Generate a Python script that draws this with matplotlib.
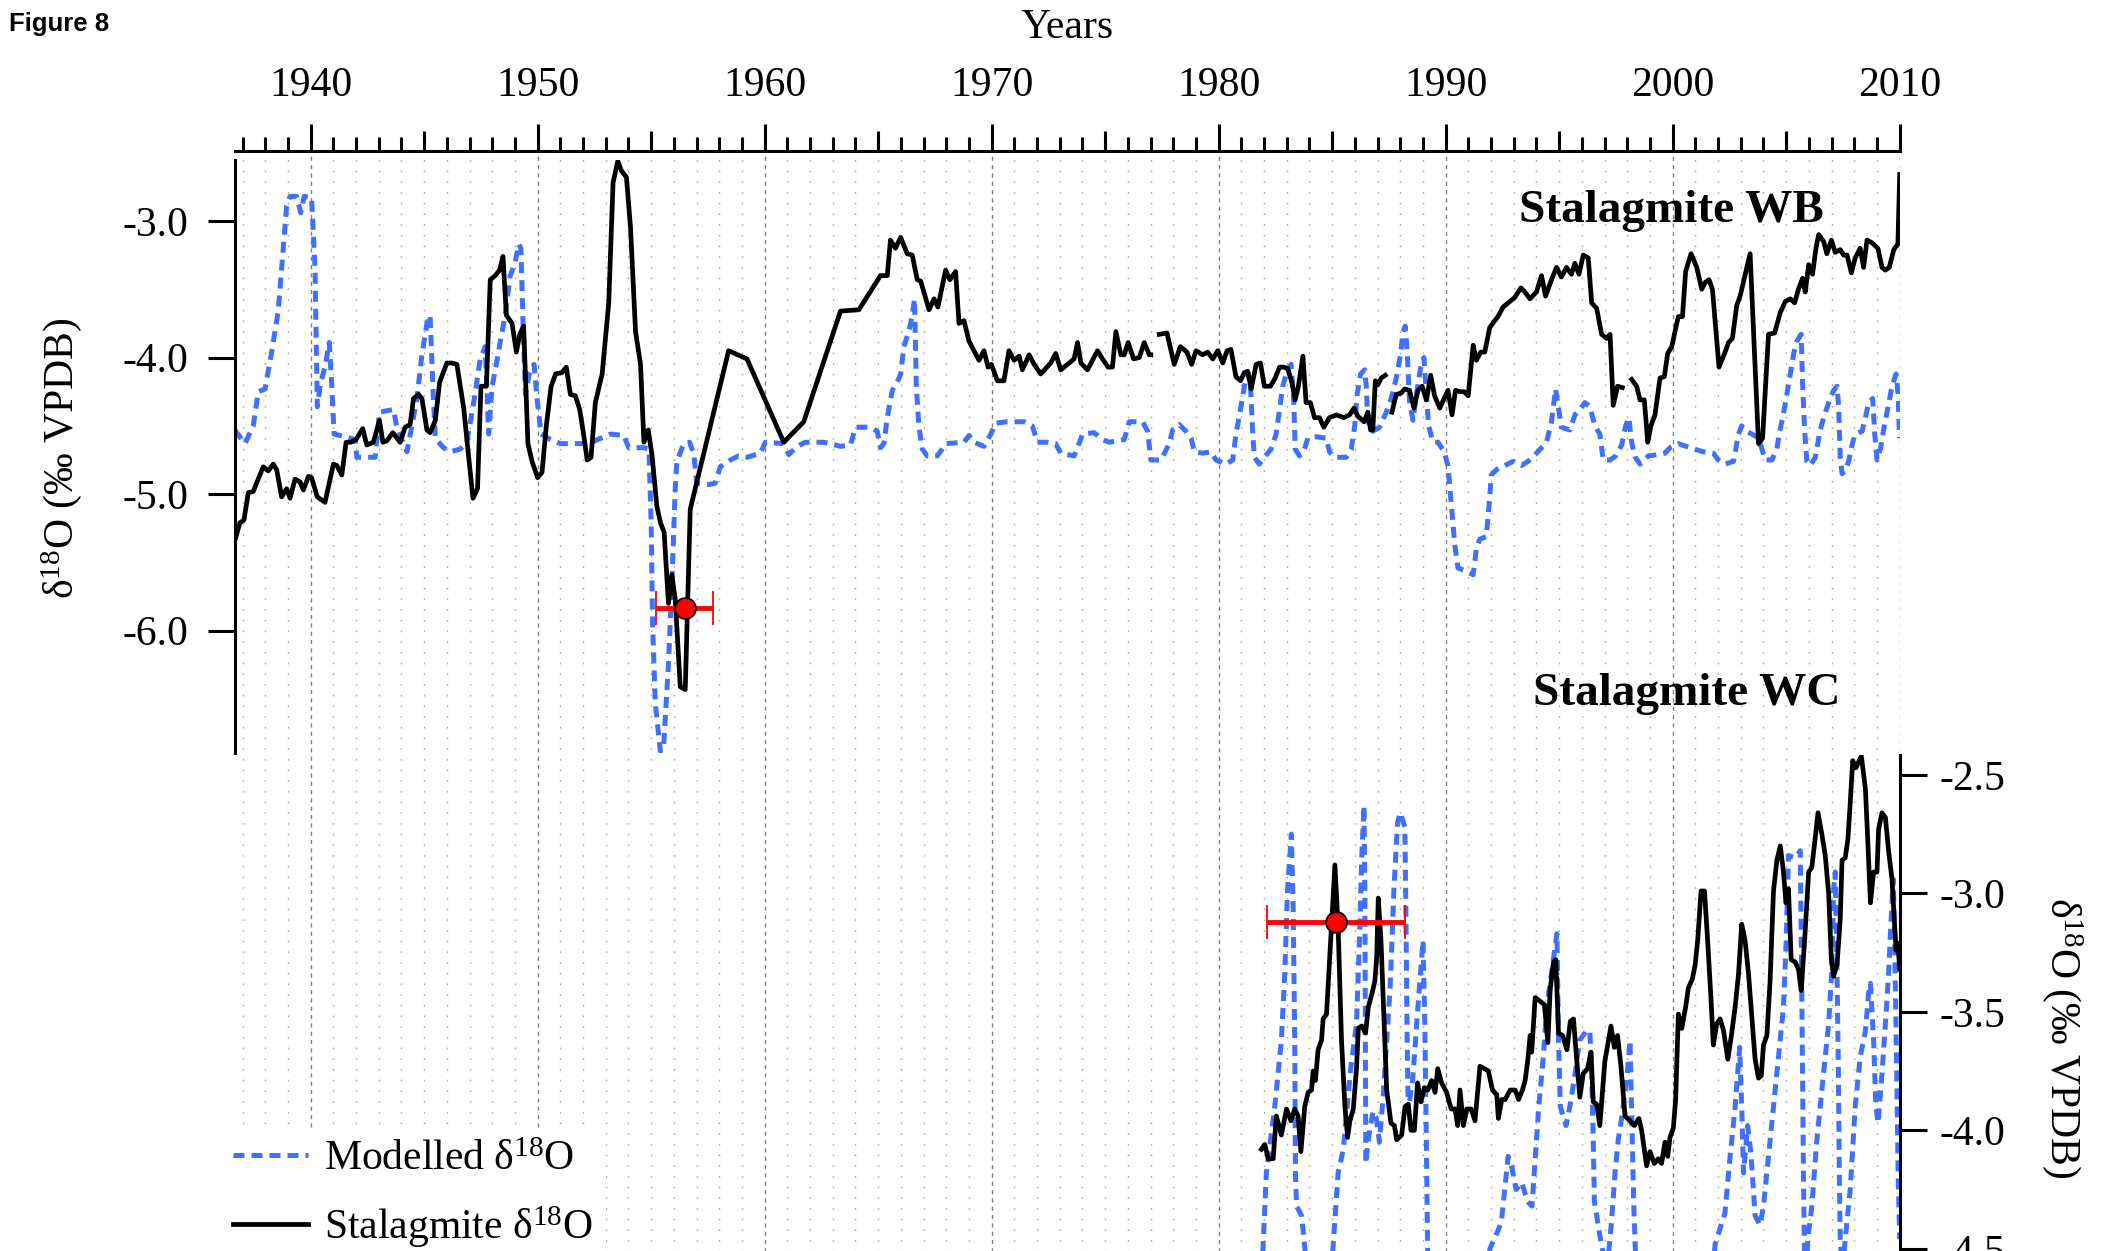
import numpy as np
import matplotlib
matplotlib.use("Agg")
import matplotlib.pyplot as plt
from matplotlib.ticker import FixedLocator, FormatStrFormatter, NullLocator, NullFormatter
from matplotlib.lines import Line2D

plt.rcParams.update({
    "font.family": ["Liberation Serif", "DejaVu Serif"],
    "mathtext.fontset": "custom",
    "mathtext.rm": "Liberation Serif",
    "mathtext.it": "Liberation Serif:italic",
    "mathtext.bf": "Liberation Serif:bold",
    "axes.unicode_minus": False,
})

nan = np.nan

# ---------------- Stalagmite WB ----------------
wb_stal_year = [
    1936.66, 1936.88, 1937.06, 1937.25, 1937.47, 1937.69, 1937.91, 1938.13, 1938.35, 1938.50,
    1938.72, 1938.94, 1939.09, 1939.31, 1939.53, 1939.68, 1939.90, 1940.04, 1940.29, 1940.63,
    1941.00, 1941.15, 1941.37, 1941.56, 1941.76, 1942.00, 1942.29, 1942.47, 1942.76, 1943.03,
    1943.18, 1943.35, 1943.62, 1943.94, 1944.16, 1944.38, 1944.53, 1944.75, 1944.90, 1945.12,
    1945.26, 1945.49, 1945.68, 1946.00, 1946.22, 1946.44, 1946.74, 1946.96, 1947.15, 1947.35,
    1947.50, 1947.74, 1947.91, 1948.13, 1948.32, 1948.47, 1948.62, 1948.87, 1949.06, 1949.21,
    1949.38, 1949.57, 1949.75, 1950.00, 1950.19, 1950.38, 1950.59, 1950.79, 1951.07, 1951.26,
    1951.44, 1951.66, 1951.85, 1952.03, 1952.18, 1952.35, 1952.54, 1952.84, 1953.13, 1953.32,
    1953.53, 1953.68, 1953.91, 1954.09, 1954.31, 1954.53, 1954.68, 1954.87, 1955.04, 1955.25,
    1955.41, 1955.57, 1955.76, 1955.91, 1956.06, 1956.28, 1956.50, 1956.72, 1958.41, 1959.22,
    1960.84, 1961.72, 1963.34, 1964.15, 1965.10, 1965.40, 1965.54, 1965.76, 1965.99, 1966.28,
    1966.50, 1966.72, 1966.87, 1967.24, 1967.46, 1967.63, 1967.97, 1968.16, 1968.41, 1968.56,
    1968.78, 1969.00, 1969.44, 1969.66, 1969.84, 1969.99, 1970.25, 1970.54, 1970.76, 1970.99,
    1971.21, 1971.35, 1971.65, 1971.87, 1972.16, 1972.38, 1972.60, 1972.82, 1973.04, 1973.34,
    1973.63, 1973.78, 1973.93, 1974.22, 1974.44, 1974.66, 1974.88, 1975.13, 1975.32, 1975.47,
    1975.69, 1975.84, 1976.01, 1976.25, 1976.50, 1976.72, 1976.94, 1977.01, 1977.20, 1977.38,
    1977.72, 1978.04, 1978.31, 1978.60, 1978.81, 1979.00, 1979.29, 1979.51, 1979.74, 1979.96,
    1980.18, 1980.37, 1980.54, 1980.76, 1980.96, 1981.13, 1981.28, 1981.43, 1981.65, 1981.84,
    1982.01, 1982.28, 1982.49, 1982.68, 1982.87, 1983.04, 1983.22, 1983.37, 1983.51, 1983.71,
    1983.85, 1984.04, 1984.22, 1984.44, 1984.63, 1984.88, 1985.18, 1985.51, 1985.76, 1985.96,
    1986.13, 1986.40, 1986.57, 1986.69, 1986.79, 1986.90, 1987.01, 1987.16, 1987.34, 1987.50,
    1987.63, 1987.82, 1988.04, 1988.19, 1988.41, 1988.60, 1988.78, 1988.96, 1989.15, 1989.34,
    1989.51, 1989.74, 1989.93, 1990.10, 1990.28, 1990.43, 1990.62, 1990.81, 1990.99, 1991.21,
    1991.35, 1991.54, 1991.72, 1991.94, 1992.16, 1992.30, 1992.53, 1992.82, 1993.04, 1993.31,
    1993.49, 1993.71, 1994.00, 1994.22, 1994.40, 1994.66, 1994.88, 1995.10, 1995.32, 1995.54,
    1995.69, 1995.87, 1996.06, 1996.28, 1996.43, 1996.65, 1996.87, 1997.09, 1997.24, 1997.38,
    1997.57, 1997.78, 1998.00, 1998.19, 1998.41, 1998.56, 1998.75, 1998.90, 1999.04, 1999.22,
    1999.44, 1999.63, 1999.78, 1999.96, 2000.18, 2000.25, 2000.43, 2000.57, 2000.81, 2001.06,
    2001.28, 2001.43, 2001.60, 2001.75, 2002.04, 2002.31, 2002.46, 2002.63, 2002.82, 2002.97,
    2003.41, 2003.78, 2003.96, 2004.22, 2004.49, 2004.74, 2004.96, 2005.18, 2005.37, 2005.54,
    2005.72, 2005.84, 2005.99, 2006.16, 2006.31, 2006.43, 2006.65, 2006.79, 2006.99, 2007.16,
    2007.38, 2007.53, 2007.68, 2007.87, 2008.04, 2008.26, 2008.41, 2008.56, 2008.78, 2009.04,
    2009.22, 2009.37, 2009.54, 2009.74, 2009.92, 2010.00,
]
wb_stal_d18o = [
    -5.34, -5.21, -5.19, -4.99, -4.98, -4.89, -4.80, -4.83, -4.78, -4.82,
    -5.02, -4.96, -5.03, -4.89, -4.91, -4.97, -4.87, -4.88, -5.02, -5.06,
    -4.78, -4.79, -4.86, -4.62, -4.62, -4.60, -4.52, -4.64, -4.62, -4.46,
    -4.62, -4.61, -4.55, -4.62, -4.51, -4.49, -4.30, -4.27, -4.30, -4.53,
    -4.55, -4.46, -4.18, -4.04, -4.04, -4.05, -4.37, -4.73, -5.03, -4.96,
    -4.21, -4.21, -3.43, -3.40, -3.36, -3.26, -3.69, -3.75, -3.96, -3.83,
    -3.77, -4.63, -4.76, -4.88, -4.84, -4.50, -4.21, -4.12, -4.11, -4.07,
    -4.27, -4.28, -4.38, -4.57, -4.75, -4.73, -4.33, -4.12, -3.60, -2.72,
    -2.56, -2.63, -2.68, -3.05, -3.81, -4.05, -4.62, -4.53, -4.72, -5.09,
    -5.21, -5.28, -5.80, -5.59, -5.77, -6.41, -6.43, -5.11, -3.95, -4.01,
    -4.62, -4.47, -3.66, -3.65, -3.40, -3.40, -3.14, -3.20, -3.12, -3.24,
    -3.25, -3.43, -3.44, -3.65, -3.57, -3.63, -3.36, -3.43, -3.37, -3.75,
    -3.73, -3.88, -4.02, -3.95, -4.07, -4.05, -4.17, -4.17, -3.95, -4.02,
    -3.99, -4.09, -3.98, -4.05, -4.12, -4.08, -4.04, -3.97, -4.09, -4.05,
    -4.01, -3.89, -4.04, -4.09, -4.02, -3.95, -4.01, -4.07, -4.07, -3.81,
    -3.98, -3.98, -3.89, -4.01, -4.00, -3.89, -3.98, -3.98, nan, -3.83,
    -3.82, -4.05, -3.92, -3.96, -4.05, -3.95, -3.98, -3.96, -4.01, -3.95,
    -4.04, -3.95, -3.94, -4.14, -4.17, -4.11, -4.10, -4.23, -4.05, -4.04,
    -4.21, -4.21, -4.15, -4.07, -4.07, -4.08, -4.18, -4.31, -4.21, -3.99,
    -4.33, -4.33, -4.44, -4.44, -4.51, -4.44, -4.42, -4.44, -4.42, -4.37,
    -4.43, -4.47, -4.40, -4.53, -4.53, -4.17, -4.20, -4.15, -4.13, nan,
    -4.40, -4.27, -4.26, -4.23, -4.24, -4.37, -4.24, -4.21, -4.31, -4.13,
    -4.28, -4.37, -4.30, -4.24, -4.42, -4.24, -4.25, -4.25, -4.28, -3.91,
    -4.02, -3.96, -3.96, -3.78, -3.73, -3.70, -3.63, -3.59, -3.56, -3.49,
    -3.52, -3.57, -3.52, -3.40, -3.55, -3.43, -3.34, -3.41, -3.34, -3.39,
    -3.31, -3.39, -3.25, -3.27, -3.60, -3.64, -3.83, -3.86, -3.83, -4.35,
    -4.21, -4.22, nan, -4.16, -4.21, -4.31, -4.31, -4.62, -4.50, -4.42,
    -4.15, -4.14, -3.97, -3.92, -3.75, -3.70, -3.70, -3.37, -3.24, -3.34,
    -3.50, -3.45, -3.43, -3.50, -4.07, -3.96, -3.89, -3.86, -3.62, -3.55,
    -3.24, -4.63, -4.59, -3.83, -3.82, -3.67, -3.59, -3.57, -3.60, -3.50,
    -3.42, -3.52, -3.32, -3.39, -3.20, -3.10, -3.15, -3.24, -3.14, -3.23,
    -3.21, -3.25, -3.25, -3.38, -3.27, -3.20, -3.34, -3.14, -3.16, -3.20,
    -3.34, -3.36, -3.34, -3.21, -3.17, -2.66,
]

wb_model_year = [
    1936.66, 1937.10, 1937.47, 1937.69, 1937.99, 1938.28, 1938.57, 1938.79, 1938.94, 1939.09,
    1939.38, 1939.56, 1939.71, 1940.04, 1940.19, 1940.29, 1940.44, 1940.63, 1940.82, 1940.93,
    1941.03, 1941.29, 1941.96, 1942.03, 1942.84, 1943.03, 1943.65, 1943.79, 1944.24, 1944.46,
    1944.68, 1944.90, 1945.12, 1945.26, 1945.38, 1945.49, 1945.85, 1946.15, 1946.59, 1946.88,
    1947.18, 1947.47, 1947.69, 1947.84, 1947.99, 1948.13, 1948.38, 1948.57, 1948.79, 1949.00,
    1949.16, 1949.26, 1949.35, 1949.46, 1949.63, 1949.84, 1949.97, 1950.15, 1950.56, 1951.00,
    1952.25, 1952.91, 1953.21, 1953.79, 1954.01, 1954.68, 1954.90, 1955.00, 1955.06, 1955.18,
    1955.40, 1955.54, 1955.76, 1955.91, 1956.06, 1956.13, 1956.43, 1956.69, 1956.87, 1957.01,
    1957.53, 1957.82, 1958.04, 1958.49, 1958.85, 1959.22, 1959.81, 1960.03, 1960.84, 1961.06,
    1961.43, 1961.79, 1962.60, 1963.34, 1963.78, 1964.00, 1964.66, 1964.96, 1965.10, 1965.25,
    1965.40, 1965.62, 1965.84, 1965.99, 1966.13, 1966.35, 1966.50, 1966.60, 1966.68, 1966.79,
    1966.94, 1967.16, 1967.60, 1967.82, 1967.97, 1968.78, 1969.00, 1969.22, 1969.66, 1969.96,
    1970.18, 1970.69, 1971.43, 1971.79, 1972.01, 1972.46, 1972.82, 1973.04, 1973.63, 1973.85,
    1974.00, 1974.51, 1974.88, 1975.18, 1975.84, 1976.06, 1976.65, 1976.87, 1977.01, 1977.46,
    1977.82, 1977.97, 1978.26, 1978.56, 1978.78, 1978.93, 1979.29, 1979.66, 1979.88, 1980.32,
    1980.62, 1980.76, 1980.96, 1981.13, 1981.28, 1981.40, 1981.50, 1981.57, 1981.79, 1982.01,
    1982.31, 1982.53, 1982.68, 1982.82, 1983.04, 1983.19, 1983.31, 1983.37, 1983.56, 1983.78,
    1983.93, 1984.29, 1984.74, 1984.88, 1985.10, 1985.62, 1985.84, 1985.99, 1986.10, 1986.25,
    1986.43, 1986.50, 1986.57, 1986.79, 1987.09, 1987.38, 1987.60, 1987.82, 1988.01, 1988.12,
    1988.22, 1988.31, 1988.41, 1988.56, 1988.71, 1988.90, 1989.04, 1989.15, 1989.25, 1989.44,
    1989.66, 1989.93, 1990.10, 1990.25, 1990.40, 1990.54, 1990.84, 1991.21, 1991.35, 1991.50,
    1991.79, 1991.94, 1992.01, 1992.24, 1992.60, 1992.97, 1993.34, 1993.63, 1994.00, 1994.44,
    1994.66, 1994.84, 1994.96, 1995.10, 1995.47, 1995.69, 1995.91, 1996.13, 1996.35, 1996.57,
    1996.79, 1996.94, 1997.24, 1997.49, 1997.75, 1997.93, 1998.07, 1998.19, 1998.35, 1998.56,
    1998.93, 1999.37, 1999.66, 1999.88, 2000.25, 2000.76, 2001.35, 2001.79, 2002.01, 2002.31,
    2002.68, 2002.90, 2003.04, 2003.26, 2003.49, 2003.78, 2003.93, 2004.07, 2004.37, 2004.59,
    2004.69, 2004.88, 2005.03, 2005.18, 2005.32, 2005.47, 2005.66, 2005.72, 2005.81, 2005.91,
    2006.06, 2006.28, 2006.50, 2006.65, 2006.87, 2007.09, 2007.24, 2007.31, 2007.38, 2007.46,
    2007.60, 2007.75, 2007.90, 2008.04, 2008.34, 2008.49, 2008.63, 2008.81, 2008.90, 2009.00,
    2009.15, 2009.29, 2009.49, 2009.66, 2009.84, 2009.93, 2009.99,
]
wb_model_d18o = [
    -4.53, -4.63, -4.50, -4.25, -4.23, -3.96, -3.66, -3.20, -2.89, -2.82,
    -2.82, -2.94, -2.82, -2.83, -3.34, -4.36, -4.18, -4.07, -3.89, -4.21,
    -4.56, -4.57, -4.60, -4.73, -4.73, -4.40, -4.38, -4.51, -4.69, -4.50,
    -4.30, -3.98, -3.75, -3.69, -4.21, -4.59, -4.66, -4.69, -4.67, -4.62,
    -4.33, -4.01, -3.92, -4.56, -4.21, -4.09, -3.86, -3.69, -3.40, -3.31,
    -3.17, -3.20, -3.73, -4.27, -4.12, -4.05, -4.30, -4.56, -4.60, -4.63,
    -4.63, -4.58, -4.56, -4.57, -4.66, -4.66, -4.67, -5.22, -5.95, -6.53,
    -6.88, -6.87, -6.24, -5.66, -4.96, -4.76, -4.63, -4.62, -4.70, -4.92,
    -4.93, -4.92, -4.80, -4.75, -4.72, -4.73, -4.70, -4.62, -4.63, -4.71,
    -4.65, -4.62, -4.62, -4.65, -4.64, -4.51, -4.51, -4.54, -4.66, -4.63,
    -4.44, -4.24, -4.18, -4.12, -3.92, -3.81, -3.69, -3.57, -4.21, -4.50,
    -4.67, -4.72, -4.72, -4.67, -4.63, -4.62, -4.57, -4.62, -4.65, -4.56,
    -4.48, -4.47, -4.47, -4.50, -4.62, -4.62, -4.63, -4.70, -4.72, -4.63,
    -4.56, -4.55, -4.60, -4.62, -4.60, -4.47, -4.47, -4.54, -4.75, -4.75,
    -4.63, -4.53, -4.49, -4.54, -4.59, -4.69, -4.70, -4.69, -4.75, -4.78,
    -4.75, -4.56, -4.38, -4.21, -4.11, -4.21, -4.56, -4.73, -4.78, -4.73,
    -4.67, -4.56, -4.38, -4.21, -4.09, -4.05, -4.33, -4.67, -4.72, -4.67,
    -4.59, -4.58, -4.59, -4.69, -4.73, -4.73, -4.67, -4.50, -4.27, -4.12,
    -4.09, -4.21, -4.47, -4.54, -4.51, -4.40, -4.30, -4.15, -3.98, -3.81,
    -3.77, -3.98, -4.33, -4.46, -4.27, -4.07, -4.00, -4.27, -4.50, -4.62,
    -4.62, -4.69, -4.79, -5.08, -5.37, -5.54, -5.56, -5.59, -5.40, -5.33,
    -5.31, -5.02, -4.86, -4.82, -4.79, -4.76, -4.79, -4.76, -4.70, -4.62,
    -4.47, -4.23, -4.36, -4.51, -4.53, -4.42, -4.38, -4.33, -4.36, -4.50,
    -4.56, -4.75, -4.75, -4.72, -4.64, -4.50, -4.44, -4.62, -4.73, -4.78,
    -4.72, -4.71, -4.70, -4.66, -4.63, -4.66, -4.69, -4.70, -4.75, -4.78,
    -4.76, -4.56, -4.50, -4.54, -4.56, -4.59, -4.67, -4.75, -4.75, -4.67,
    -4.56, -4.41, -4.27, -4.12, -3.98, -3.88, -3.83, -4.18, -4.53, -4.76,
    -4.79, -4.73, -4.53, -4.44, -4.33, -4.24, -4.21, -4.36, -4.73, -4.85,
    -4.83, -4.76, -4.64, -4.56, -4.54, -4.44, -4.33, -4.30, -4.56, -4.75,
    -4.67, -4.53, -4.36, -4.21, -4.12, -4.27, -4.59,
]

# ---------------- Stalagmite WC ----------------
wc_stal_year = [
    1981.88, 1982.03, 1982.18, 1982.40, 1982.54, 1982.76, 1982.99, 1983.18, 1983.35, 1983.50,
    1983.62, 1983.79, 1983.94, 1984.09, 1984.16, 1984.26, 1984.38, 1984.53, 1984.60, 1984.75,
    1984.85, 1984.97, 1985.12, 1985.26, 1985.41, 1985.56, 1985.68, 1985.78, 1985.93, 1986.07,
    1986.15, 1986.29, 1986.47, 1986.59, 1986.76, 1986.88, 1986.96, 1987.03, 1987.15, 1987.29,
    1987.40, 1987.59, 1987.74, 1987.84, 1988.06, 1988.21, 1988.35, 1988.47, 1988.62, 1988.76,
    1988.91, 1989.06, 1989.21, 1989.38, 1989.53, 1989.65, 1989.82, 1990.04, 1990.24, 1990.41,
    1990.53, 1990.63, 1990.78, 1990.93, 1991.12, 1991.29, 1991.51, 1991.71, 1991.88, 1992.06,
    1992.25, 1992.32, 1992.47, 1992.62, 1992.84, 1993.06, 1993.21, 1993.38, 1993.50, 1993.62,
    1993.72, 1993.79, 1993.94, 1994.09, 1994.35, 1994.50, 1994.60, 1994.75, 1994.85, 1994.97,
    1995.15, 1995.34, 1995.49, 1995.63, 1995.76, 1995.91, 1996.06, 1996.25, 1996.40, 1996.50,
    1996.65, 1996.79, 1997.01, 1997.28, 1997.43, 1997.57, 1997.72, 1997.90, 1998.12, 1998.31,
    1998.51, 1998.63, 1998.85, 1999.00, 1999.19, 1999.37, 1999.51, 1999.66, 1999.78, 1999.88,
    2000.03, 2000.13, 2000.25, 2000.40, 2000.57, 2000.69, 2000.87, 2000.99, 2001.10, 2001.25,
    2001.40, 2001.54, 2001.69, 2001.79, 2001.94, 2002.09, 2002.24, 2002.43, 2002.60, 2002.75,
    2002.90, 2003.04, 2003.19, 2003.34, 2003.51, 2003.63, 2003.78, 2003.90, 2004.00, 2004.15,
    2004.29, 2004.44, 2004.59, 2004.74, 2004.88, 2004.99, 2005.10, 2005.22, 2005.40, 2005.54,
    2005.66, 2005.81, 2005.99, 2006.13, 2006.25, 2006.40, 2006.57, 2006.72, 2006.87, 2006.99,
    2007.09, 2007.24, 2007.38, 2007.46, 2007.60, 2007.72, 2007.82, 2007.93, 2008.07, 2008.31,
    2008.49, 2008.60, 2008.71, 2008.85, 2009.00, 2009.07, 2009.22, 2009.37, 2009.51, 2009.66,
    2009.84, 2009.92, 2010.00,
]
wc_stal_d18o = [
    -4.08, -4.06, -4.12, -4.12, -3.94, -4.02, -3.91, -3.96, -3.91, -3.94,
    -4.09, -3.90, -3.84, -3.83, -3.75, -3.79, -3.66, -3.62, -3.53, -3.51,
    -3.34, -3.14, -2.88, -3.14, -3.62, -3.90, -4.03, -3.96, -3.91, -3.74,
    -3.57, -3.56, -3.59, -3.48, -3.42, -3.37, -3.27, -3.02, -3.20, -3.55,
    -3.83, -3.97, -3.98, -4.04, -4.02, -3.90, -3.89, -4.00, -4.00, -3.80,
    -3.88, -3.82, -3.83, -3.79, -3.84, -3.74, -3.80, -3.84, -3.91, -3.91,
    -3.98, -3.83, -3.98, -3.91, -3.91, -3.96, -3.73, -3.74, -3.75, -3.83,
    -3.85, -3.95, -3.87, -3.87, -3.83, -3.83, -3.87, -3.83, -3.79, -3.70,
    -3.60, -3.67, -3.44, -3.45, -3.47, -3.63, -3.41, -3.29, -3.28, -3.59,
    -3.60, -3.66, -3.54, -3.53, -3.69, -3.86, -3.76, -3.74, -3.67, -3.88,
    -3.89, -3.98, -3.71, -3.56, -3.65, -3.60, -3.73, -3.94, -3.96, -3.98,
    -3.95, -4.00, -4.15, -4.09, -4.14, -4.12, -4.14, -4.05, -4.11, -4.03,
    -3.99, -3.87, -3.51, -3.57, -3.48, -3.40, -3.36, -3.30, -3.20, -2.99,
    -2.99, -3.20, -3.45, -3.64, -3.55, -3.53, -3.58, -3.70, -3.59, -3.48,
    -3.34, -3.13, -3.20, -3.34, -3.55, -3.70, -3.78, -3.77, -3.64, -3.60,
    -3.37, -2.99, -2.86, -2.80, -2.91, -3.04, -2.98, -3.28, -3.29, -3.32,
    -3.41, -3.20, -2.91, -2.89, -2.79, -2.66, -2.75, -2.84, -3.00, -3.28,
    -3.35, -3.30, -3.11, -2.86, -2.85, -2.77, -2.62, -2.44, -2.47, -2.42,
    -2.56, -2.79, -3.04, -2.91, -2.91, -2.73, -2.66, -2.68, -2.82, -2.94,
    -3.24, -3.21, -3.32,
]

wc_model_year = [
    1981.85, 1981.95, 1982.10, 1982.47, 1982.76, 1982.91, 1983.03, 1983.20, 1983.28, 1983.35,
    1983.38, 1983.43, 1983.65, 1983.90, 1984.40, 1984.95, 1985.04, 1985.26, 1985.49, 1985.80,
    1986.07, 1986.20, 1986.30, 1986.40, 1986.44, 1986.46, 1986.48, 1986.62, 1986.80, 1986.95,
    1987.08, 1987.25, 1987.55, 1987.72, 1987.88, 1988.00, 1988.20, 1988.25, 1988.30, 1988.35,
    1988.55, 1988.80, 1989.00, 1989.08, 1989.14, 1989.20, 1989.35, 1990.50, 1991.50, 1991.95,
    1992.45, 1992.75, 1992.90, 1993.10, 1993.35, 1993.60, 1993.80, 1993.95, 1994.10, 1994.30,
    1994.45, 1994.70, 1994.90, 1994.97, 1995.05, 1995.30, 1995.47, 1995.70, 1995.90, 1996.20,
    1996.35, 1996.43, 1996.50, 1996.55, 1996.80, 1997.10, 1997.30, 1997.46, 1997.60, 1997.75,
    1998.00, 1998.12, 1998.20, 1998.28, 1998.37, 1998.60, 2000.00, 2001.50, 2001.87, 2002.30,
    2002.53, 2002.75, 2002.95, 2003.04, 2003.12, 2003.30, 2003.45, 2003.63, 2003.85, 2004.00,
    2004.22, 2004.44, 2004.66, 2004.88, 2005.00, 2005.10, 2005.40, 2005.62, 2005.68, 2005.72,
    2005.76, 2005.80, 2005.86, 2005.95, 2006.13, 2006.35, 2006.57, 2006.72, 2006.87, 2007.00,
    2007.09, 2007.16, 2007.24, 2007.30, 2007.34, 2007.38, 2007.48, 2007.60, 2007.82, 2008.04,
    2008.26, 2008.49, 2008.63, 2008.71, 2008.85, 2008.95, 2009.05, 2009.22, 2009.37, 2009.51,
    2009.60, 2009.72, 2009.80, 2009.87, 2009.93, 2010.00,
]
wc_model_d18o = [
    -4.75, -4.50, -4.18, -3.90, -3.62, -3.34, -2.99, -2.75, -3.06, -3.62,
    -4.18, -4.32, -4.36, -4.60, -4.90, -4.60, -4.49, -4.18, -4.08, -3.75,
    -3.55, -3.20, -2.85, -2.63, -3.00, -3.60, -4.14, -4.02, -3.92, -3.95,
    -4.05, -3.85, -3.40, -2.98, -2.70, -2.66, -2.72, -3.10, -3.60, -3.92,
    -3.78, -3.45, -3.20, -3.55, -4.00, -4.50, -4.85, -4.95, -4.85, -4.50,
    -4.39, -4.11, -4.15, -4.25, -4.22, -4.30, -4.32, -4.11, -3.90, -3.69,
    -3.48, -3.31, -3.17, -3.62, -3.90, -3.98, -3.90, -3.76, -3.62, -3.58,
    -3.58, -3.76, -4.04, -4.30, -4.45, -4.60, -4.39, -4.18, -4.04, -3.95,
    -3.76, -3.62, -3.95, -4.30, -4.55, -4.90, -5.00, -4.90, -4.48, -4.35,
    -4.11, -3.90, -3.65, -3.90, -4.18, -3.98, -4.10, -4.36, -4.40, -4.32,
    -4.11, -3.90, -3.69, -3.48, -3.20, -2.84, -2.85, -2.82, -3.34, -3.76,
    -4.18, -4.50, -4.70, -4.46, -4.32, -4.04, -3.83, -3.69, -3.55, -3.34,
    -2.98, -2.91, -3.34, -3.76, -4.18, -4.46, -4.60, -4.46, -4.25, -3.90,
    -3.69, -3.58, -3.42, -3.38, -3.62, -3.90, -3.97, -3.76, -3.55, -3.34,
    -3.15, -2.94, -3.34, -3.76, -4.18, -4.46,
]

# Radiometric tie points (year, value, +/- years)
wb_tie_year, wb_tie_d18o, wb_tie_err = [1956.47], [-5.83], [1.25]
wc_tie_year, wc_tie_d18o, wc_tie_err = [1985.17], [-3.12], [3.03]

decade_ticks = list(range(1940, 2011, 10))
half_decade_ticks = list(range(1945, 2010, 10))
year_ticks = list(range(1937, 2011))
wb_yticks = [-3.0, -4.0, -5.0, -6.0]
wc_yticks = [-2.5, -3.0, -3.5, -4.0, -4.5]

# ---------------- layout ----------------
W, H, DPI = 2113, 1251, 100
PT = DPI / 72.0
fig = plt.figure(figsize=(W / DPI, H / DPI), dpi=DPI)

X_MIN, X_MAX = 1936.65, 2010.0
left_px, right_px = 234.65, 1899.7
L, Wd = left_px / W, (right_px - left_px) / W

def box(top_px, bottom_px):
    return [L, 1 - bottom_px / H, Wd, (bottom_px - top_px) / H]

BLUE = "#4070ff"
LW_STAL = 3.4
LW_MODEL = 3.6
DASH = [2.2, 1.4]
TICK_W = 2.2
FS = 30

# background axis: top year scale + vertical grid
ax_bg = fig.add_axes(box(151, 1330), zorder=0)
ax_bg.set_xlim(X_MIN, X_MAX)
ax_bg.set_ylim(0, 1)
for s in ("left", "right", "bottom"):
    ax_bg.spines[s].set_visible(False)
ax_bg.spines["top"].set_linewidth(TICK_W)
ax_bg.yaxis.set_major_locator(NullLocator())
ax_bg.xaxis.set_major_locator(FixedLocator(decade_ticks))
ax_bg.xaxis.set_minor_locator(FixedLocator(year_ticks))
ax_bg.xaxis.set_major_formatter(FormatStrFormatter("%d"))
ax_bg.tick_params(axis="x", which="both", top=True, bottom=False, labeltop=True,
                  labelbottom=False, direction="out", width=TICK_W, labelsize=FS)
ax_bg.tick_params(axis="x", which="major", length=27 / PT, pad=14)
ax_bg.tick_params(axis="x", which="minor", length=14 / PT)
for yr in year_ticks:
    if yr % 10 == 0:
        ax_bg.axvline(yr, color="#808080", lw=1.0, ls=(0, (3, 3)), zorder=0)
    else:
        ax_bg.axvline(yr, color="#a8a8a8", lw=1.0, ls=(0, (1.2, 6.5)), zorder=0)

sec = ax_bg.secondary_xaxis("top")
sec.set_xticks(half_decade_ticks)
sec.xaxis.set_major_formatter(NullFormatter())
sec.tick_params(axis="x", direction="out", length=20 / PT, width=TICK_W)
sec.spines["top"].set_visible(False)

# Stalagmite WB panel
ax_wb = fig.add_axes(box(159.9, 753), zorder=2)
ax_wb.set_facecolor("none")
ax_wb.set_xlim(X_MIN, X_MAX)
ax_wb.set_ylim(-6.895, -2.553)
for s in ("top", "right", "bottom"):
    ax_wb.spines[s].set_visible(False)
ax_wb.spines["left"].set_linewidth(TICK_W)
ax_wb.xaxis.set_major_locator(NullLocator())
ax_wb.yaxis.set_major_locator(FixedLocator(wb_yticks))
ax_wb.yaxis.set_major_formatter(FormatStrFormatter("%.1f"))
ax_wb.tick_params(axis="y", direction="out", length=27 / PT, width=TICK_W,
                  labelsize=FS, pad=14)

l_model, = ax_wb.plot(wb_model_year, wb_model_d18o, color=BLUE, lw=LW_MODEL, zorder=2)
l_model.set_dashes(DASH)
ax_wb.plot(wb_stal_year, wb_stal_d18o, color="black", lw=LW_STAL, zorder=3)
ax_wb.errorbar(wb_tie_year, wb_tie_d18o, xerr=wb_tie_err, fmt="o", color="red",
               ecolor="red", elinewidth=3.5, capsize=12.5, capthick=3.5, ms=15,
               mfc="red", mec="black", mew=1.3, zorder=5)

# Stalagmite WC panel
ax_wc = fig.add_axes(box(755, 1308), zorder=2)
ax_wc.set_facecolor("none")
ax_wc.set_xlim(X_MIN, X_MAX)
ax_wc.set_ylim(-4.75, -2.416)
for s in ("top", "left", "bottom"):
    ax_wc.spines[s].set_visible(False)
ax_wc.spines["right"].set_linewidth(TICK_W)
ax_wc.xaxis.set_major_locator(NullLocator())
ax_wc.yaxis.tick_right()
ax_wc.yaxis.set_major_locator(FixedLocator(wc_yticks))
ax_wc.yaxis.set_major_formatter(FormatStrFormatter("%.1f"))
ax_wc.tick_params(axis="y", direction="out", length=27 / PT, width=TICK_W,
                  labelsize=FS, pad=9)

wc_model, = ax_wc.plot(wc_model_year, wc_model_d18o, color=BLUE, lw=LW_MODEL, zorder=2)
wc_model.set_dashes(DASH)
ax_wc.plot(wc_stal_year, wc_stal_d18o, color="black", lw=LW_STAL, zorder=3)
ax_wc.errorbar(wc_tie_year, wc_tie_d18o, xerr=wc_tie_err, fmt="o", color="red",
               ecolor="red", elinewidth=3.5, capsize=12.5, capthick=3.5, ms=15,
               mfc="red", mec="black", mew=1.3, zorder=5)

# labels
label = "\u03b4$^{18}$O (\u2030 VPDB)"
fig.text(62 / W, 1 - 458 / H, label, rotation=90, ha="center", va="center", fontsize=FS)
fig.text(2062 / W, 1 - 1038 / H, label, rotation=270, ha="center", va="center", fontsize=FS)
fig.text(1067 / W, 1 - 28 / H, "Years", ha="center", va="center", fontsize=FS)
fig.text(9 / W, 1 - 24 / H, "Figure 8", ha="left", va="center", fontsize=18.5,
         family="Liberation Sans", weight="bold")
fig.text(1671 / W, 1 - 211 / H, "Stalagmite WB", ha="center", va="center",
         fontsize=34, weight="bold")
fig.text(1687 / W, 1 - 694 / H, "Stalagmite WC", ha="center", va="center",
         fontsize=34, weight="bold")

h_model = Line2D([], [], color=BLUE, lw=LW_MODEL, dashes=DASH)
h_stal = Line2D([], [], color="black", lw=LW_STAL)
fig.legend([h_model, h_stal], ["Modelled \u03b4$^{18}$O", "Stalagmite \u03b4$^{18}$O"],
           loc="upper left", bbox_to_anchor=(220 / W, 1 - 1128 / H),
           frameon=True, fancybox=False, facecolor="white", edgecolor="none",
           framealpha=1.0, fontsize=FS, handlelength=1.8, handletextpad=0.4,
           labelspacing=0.6, borderpad=0.3, borderaxespad=0.0)

fig.savefig("out.png", dpi=DPI)
